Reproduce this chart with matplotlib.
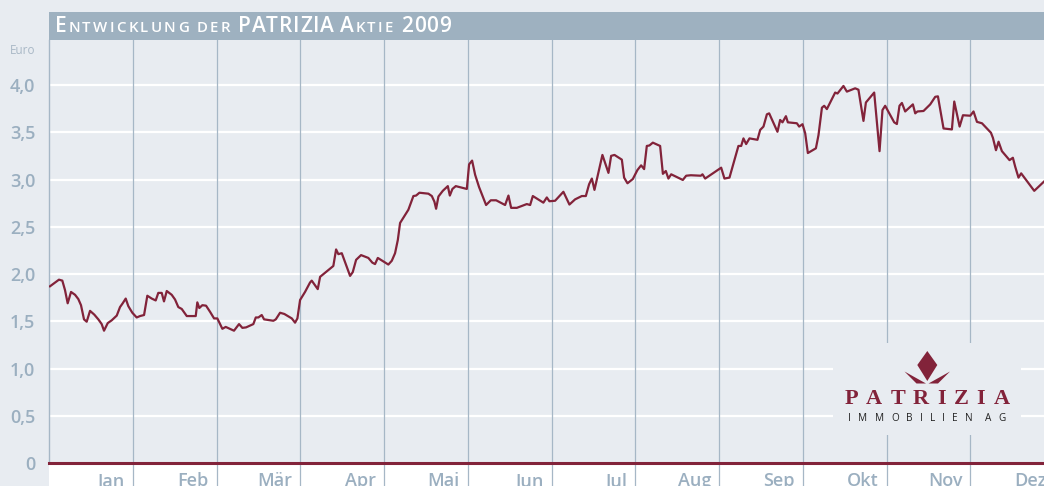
import matplotlib.pyplot as plt
import matplotlib.transforms as mtransforms
from matplotlib.patches import Rectangle, Polygon

# --- data ---
months = ['Jan', 'Feb', 'Mär', 'Apr', 'Mai', 'Jun', 'Jul', 'Aug', 'Sep', 'Okt', 'Nov', 'Dez']
ytick_vals = [0, 0.5, 1.0, 1.5, 2.0, 2.5, 3.0, 3.5, 4.0]
ytick_labels = ['0', '0,5', '1,0', '1,5', '2,0', '2,5', '3,0', '3,5', '4,0']

# time in months since 1 Jan 2009
t = [0.012, 0.119, 0.159, 0.191, 0.223, 0.263, 0.311, 0.350, 0.382, 0.418,
     0.450, 0.490, 0.541, 0.589, 0.629, 0.657, 0.701, 0.749, 0.809, 0.848,
     0.880, 0.916, 0.947, 0.995, 1.047, 1.087, 1.135, 1.174, 1.227, 1.274,
     1.305, 1.346, 1.373, 1.406, 1.465, 1.505, 1.544, 1.585, 1.645, 1.752,
     1.771, 1.795, 1.831, 1.875, 1.923, 1.971, 2.010, 2.070, 2.110, 2.209,
     2.269, 2.309, 2.353, 2.440, 2.469, 2.500, 2.540, 2.568, 2.679, 2.708,
     2.759, 2.810, 2.899, 2.938, 2.966, 2.998, 3.057, 3.117, 3.137, 3.209,
     3.237, 3.395, 3.428, 3.455, 3.496, 3.547, 3.595, 3.627, 3.667, 3.726,
     3.813, 3.861, 3.893, 3.926, 4.052, 4.093, 4.132, 4.165, 4.192, 4.291,
     4.351, 4.383, 4.423, 4.530, 4.571, 4.602, 4.622, 4.650, 4.702, 4.762,
     4.786, 4.817, 4.857, 4.989, 5.016, 5.052, 5.088, 5.135, 5.219, 5.275,
     5.339, 5.446, 5.486, 5.518, 5.586, 5.705, 5.745, 5.777, 5.903, 5.944,
     5.975, 6.043, 6.142, 6.214, 6.282, 6.362, 6.410, 6.449, 6.482, 6.513,
     6.608, 6.680, 6.712, 6.752, 6.840, 6.867, 6.907, 6.971, 7.026, 7.070,
     7.106, 7.138, 7.169, 7.210, 7.297, 7.330, 7.365, 7.396, 7.429, 7.568,
     7.608, 7.664, 7.783, 7.803, 7.835, 7.934, 8.026, 8.065, 8.125, 8.232,
     8.265, 8.292, 8.324, 8.364, 8.459, 8.492, 8.531, 8.572, 8.599, 8.698,
     8.730, 8.758, 8.799, 8.822, 8.930, 8.957, 8.997, 9.029, 9.061, 9.157,
     9.188, 9.229, 9.256, 9.288, 9.387, 9.415, 9.486, 9.527, 9.626, 9.665,
     9.725, 9.754, 9.853, 9.917, 9.952, 9.984, 10.092, 10.124, 10.155, 10.184,
     10.223, 10.315, 10.343, 10.370, 10.442, 10.522, 10.582, 10.614, 10.681, 10.781,
     10.809, 10.873, 10.913, 11.000, 11.039, 11.080, 11.140, 11.247, 11.271, 11.307,
     11.338, 11.378, 11.469, 11.509, 11.537, 11.576, 11.608, 11.764, 11.883]

price = [1.87, 1.94, 1.93, 1.83, 1.69, 1.81, 1.78, 1.735, 1.67, 1.52,
         1.495, 1.61, 1.57, 1.52, 1.47, 1.40, 1.48, 1.51, 1.56, 1.65,
         1.69, 1.74, 1.66, 1.59, 1.54, 1.555, 1.566, 1.77, 1.74, 1.72,
         1.80, 1.80, 1.71, 1.82, 1.78, 1.73, 1.65, 1.63, 1.555, 1.555,
         1.70, 1.64, 1.67, 1.665, 1.60, 1.53, 1.53, 1.42, 1.44, 1.40,
         1.47, 1.43, 1.435, 1.47, 1.54, 1.54, 1.566, 1.52, 1.505, 1.52,
         1.59, 1.577, 1.53, 1.485, 1.53, 1.725, 1.81, 1.91, 1.93, 1.84,
         1.97, 2.085, 2.26, 2.21, 2.22, 2.095, 1.98, 2.02, 2.15, 2.20,
         2.17, 2.12, 2.105, 2.17, 2.10, 2.14, 2.22, 2.36, 2.54, 2.68,
         2.825, 2.83, 2.86, 2.85, 2.825, 2.765, 2.69, 2.82, 2.88, 2.93,
         2.83, 2.90, 2.93, 2.90, 3.16, 3.20, 3.05, 2.92, 2.73, 2.78,
         2.78, 2.73, 2.83, 2.70, 2.70, 2.74, 2.73, 2.825, 2.755, 2.81,
         2.77, 2.775, 2.87, 2.735, 2.79, 2.825, 2.825, 2.95, 3.01, 2.89,
         3.26, 3.07, 3.25, 3.26, 3.21, 3.02, 2.96, 3.005, 3.10, 3.15,
         3.11, 3.355, 3.36, 3.39, 3.355, 3.06, 3.09, 3.01, 3.055, 2.995,
         3.04, 3.045, 3.04, 3.055, 3.01, 3.07, 3.125, 3.01, 3.02, 3.355,
         3.355, 3.435, 3.375, 3.435, 3.42, 3.525, 3.56, 3.69, 3.70, 3.505,
         3.63, 3.605, 3.67, 3.605, 3.595, 3.56, 3.585, 3.49, 3.28, 3.33,
         3.47, 3.76, 3.78, 3.745, 3.92, 3.91, 3.99, 3.93, 3.965, 3.95,
         3.62, 3.815, 3.92, 3.30, 3.735, 3.78, 3.605, 3.587, 3.78, 3.81,
         3.72, 3.795, 3.70, 3.72, 3.725, 3.795, 3.875, 3.88, 3.54, 3.53,
         3.825, 3.56, 3.68, 3.675, 3.72, 3.61, 3.595, 3.495, 3.44, 3.31,
         3.40, 3.30, 3.205, 3.23, 3.135, 3.02, 3.065, 2.88, 2.98]

# --- colours ---
bg = '#e8ecf1'
red = '#82233a'
grid_blue = '#a6b7c6'
label_blue = '#9bafc0'
bar_blue = '#9eb1c0'

plt.rcParams['font.family'] = ['Open Sans', 'DejaVu Sans']

W, H = 1044, 486
fig = plt.figure(figsize=(W / 100, H / 100), dpi=100, facecolor=bg)
# pixel coords, origin top-left
px = mtransforms.Affine2D().scale(1 / W, -1 / H).translate(0, 1) + fig.transFigure

left, right, top, zero = 49, 1054, 40, 463
ax = fig.add_axes([left / W, 1 - zero / H, (right - left) / W, (zero - top) / H])
ax.set_facecolor(bg)
ax.set_xlim(0, 12)
ax.set_ylim(0, (zero - top) / 94.5)

# white strip under the zero line
fig.add_artist(Rectangle((left, zero), W, H - zero, transform=px,
                         facecolor='white', lw=0, zorder=-1))

for v in ytick_vals[1:]:
    ax.axhline(v, color='white', lw=1.6, zorder=1)
for m in range(1, 12):
    ax.axvline(m, ymin=-0.06, ymax=1, color=grid_blue, lw=0.9, clip_on=False, zorder=1)

ax.plot(t, price, color=red, lw=1.6, zorder=3)
ax.axhline(0, color=red, lw=2.2, clip_on=False, zorder=4)

for s in ['top', 'right', 'bottom']:
    ax.spines[s].set_visible(False)
ax.spines['left'].set_color(grid_blue)
ax.spines['left'].set_linewidth(1)

ax.set_xticks([])
ax.set_yticks(ytick_vals, ytick_labels)
ax.tick_params(axis='y', length=0, pad=10, labelsize=13, labelcolor=label_blue)
for lab in ax.get_yticklabels():
    lab.set_fontweight('semibold')

for i, m in enumerate(months):
    ax.text(i + 1 - 8 / 83.75, -9 / 423, m, transform=ax.get_xaxis_transform(),
            ha='right', va='top', fontsize=13, color=label_blue,
            fontweight='semibold', clip_on=False)

fig.text(10, 50, 'Euro', transform=px, ha='left', va='center',
         fontsize=8.5, color='#a9b8c6')

renderer = fig.canvas.get_renderer()


def tracked(x, y, runs, color, weight, family=None, zorder=5):
    arts = []
    for s, size, track in runs:
        if s == ' ':
            x += size
            continue
        for ch in s:
            kw = dict(family=family) if family else {}
            txt = fig.text(x, y, ch, transform=px, fontsize=size, color=color,
                           fontweight=weight, ha='left', va='baseline',
                           zorder=zorder, **kw)
            arts.append(txt)
            x = txt.get_window_extent(renderer).x1 + track
    return arts, x - track


# title bar
fig.add_artist(Rectangle((left, 12), W, 28.5, transform=px,
                         facecolor=bar_blue, lw=0, zorder=2))
title_runs = [('E', 15, 1.4), ('NTWICKLUNG', 10.8, 2.3), (' ', 5.5, 0),
              ('DER', 10.8, 2.3), (' ', 5.5, 0), ('PATRIZIA', 15, 0.8), (' ', 5.5, 0),
              ('A', 15, 1.4), ('KTIE', 10.8, 2.3), (' ', 5.5, 0), ('2009', 15, 0.8)]
tracked(55, 32.5, title_runs, 'white', 'semibold')

# logo
fig.add_artist(Rectangle((833, 343), 188, 92, transform=px,
                         facecolor=bg, lw=0, zorder=2))
fig.add_artist(Polygon([(927.3, 351), (937.3, 365), (927.3, 381), (917.3, 365)],
                       transform=px, facecolor=red, lw=0, zorder=3))
fig.add_artist(Polygon([(904.5, 371.5), (926, 383.5), (916.5, 383.5)],
                       transform=px, facecolor=red, lw=0, zorder=3))
fig.add_artist(Polygon([(950, 371.5), (928.5, 383.5), (938, 383.5)],
                       transform=px, facecolor=red, lw=0, zorder=3))


def centered(cx, y, runs, color, weight, family=None):
    arts, x_end = tracked(0, y, runs, color, weight, family)
    x0 = arts[0].get_window_extent(renderer).x0
    shift = cx - (x0 + x_end) / 2
    for a in arts:
        a.set_x(a.get_position()[0] + shift)


centered(927, 404, [('PATRIZIA', 16, 8)], red, 'bold', family='Liberation Serif')
centered(927, 420.5, [('IMMOBILIEN', 7.2, 7.2), (' ', 5, 0), ('AG', 7.2, 7.2)],
         '#222222', 'normal')

fig.savefig('out.png', dpi=100, facecolor=bg)
